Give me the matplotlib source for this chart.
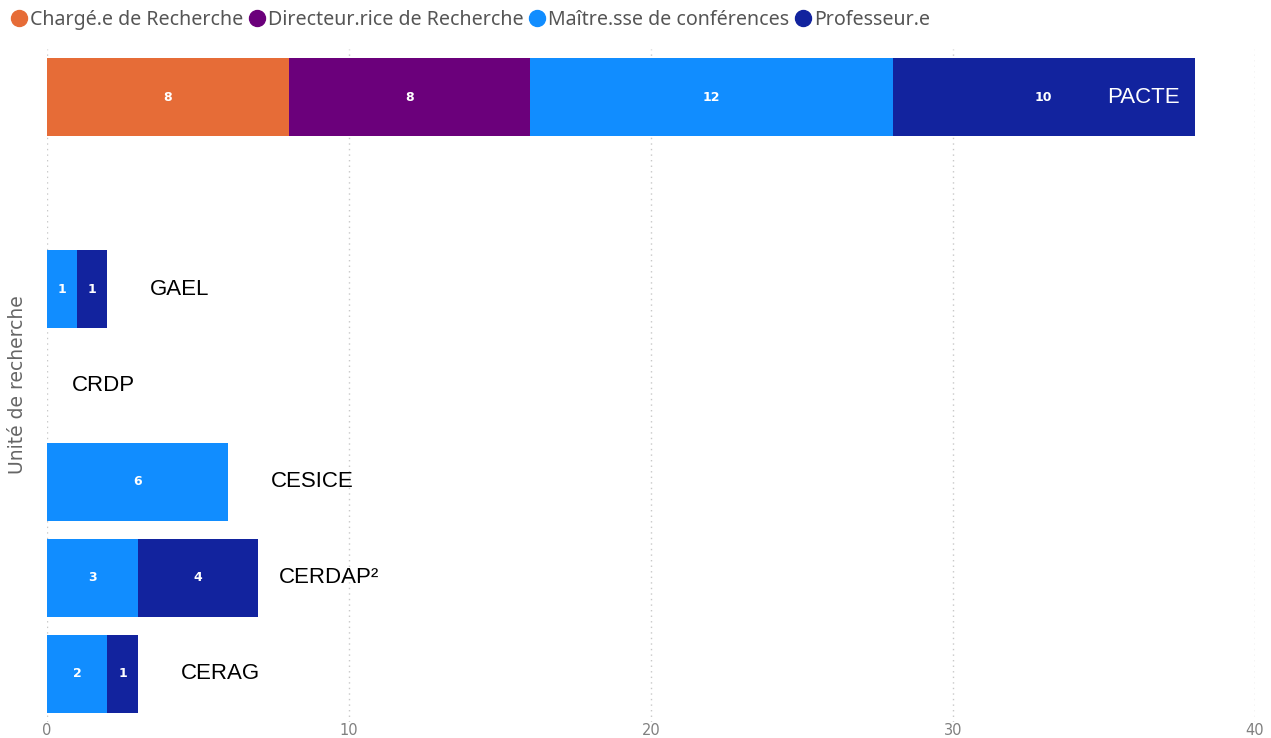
import matplotlib.pyplot as plt
from matplotlib.lines import Line2D
import numpy as np

# data, top row first
units = ["PACTE", "", "GAEL", "CRDP", "CESICE", "CERDAP²", "CERAG"]
charge = [8, 0, 0, 0, 0, 0, 0]
directeur = [8, 0, 0, 0, 0, 0, 0]
maitre = [12, 0, 1, 0, 6, 3, 2]
prof = [10, 0, 1, 0, 0, 4, 1]
series_names = ["Chargé.e de Recherche", "Directeur.rice de Recherche",
                "Maître.sse de conférences", "Professeur.e"]
colors = ["#E66C37", "#6B007B", "#118DFF", "#12239E"]
# label offset in pixels from bar end (PACTE label sits inside the bar)
label_dx = [-87, 0, 42, 25, 43, 20, 43]

fig = plt.figure(figsize=(12.71, 7.38), dpi=100)
ax = fig.add_axes([47/1271, 16/738, 1208/1271, 673/738])

y = np.arange(len(units))
left = np.zeros(len(units))
for vals, c in zip([charge, directeur, maitre, prof], colors):
    vals = np.array(vals, dtype=float)
    ax.barh(y, vals, left=left, height=0.81, color=c, zorder=2)
    for yi, (l, v) in enumerate(zip(left, vals)):
        if v > 0:
            ax.text(l + v / 2, yi, "%d" % v, ha="center", va="center",
                    color="white", fontsize=9, fontweight="bold", zorder=3)
    left += vals

for yi, (name, tot, dx) in enumerate(zip(units, left, label_dx)):
    if not name:
        continue
    col = "white" if dx < 0 else "black"
    ax.annotate(name, (tot, yi), xytext=(dx * 0.72, 0), textcoords="offset points",
                ha="left", va="center", fontsize=16, color=col,
                family="Liberation Sans", zorder=4)

ax.set_xlim(0, 40)
ax.set_ylim(len(units) - 0.5, -0.5)
ax.set_xticks([0, 10, 20, 30, 40])
ax.set_yticks([])
ax.tick_params(axis="x", length=0, pad=0.5, labelsize=10.5, labelcolor="#808080")
ax.grid(axis="x", linestyle=(0, (1, 3)), color="#C8C8C8", linewidth=1, zorder=0)
for s in ax.spines.values():
    s.set_visible(False)

fig.text(18/1271, 1 - 385/738, "Unité de recherche", rotation=90, ha="center",
         va="center", fontsize=13.5, color="#666666")

handles = [Line2D([], [], marker="o", linestyle="", markersize=11.5,
                  markerfacecolor=c, markeredgecolor=c) for c in colors]
fig.legend(handles, series_names, loc="center left", bbox_to_anchor=(0.0, 1 - 20/738),
           ncol=4, frameon=False, handletextpad=0.0,
           columnspacing=0.1, handlelength=1.15, labelcolor="#555555", borderaxespad=0,
           prop={"family": "Noto Sans", "size": 14.1})

fig.savefig("out.png", dpi=100)
